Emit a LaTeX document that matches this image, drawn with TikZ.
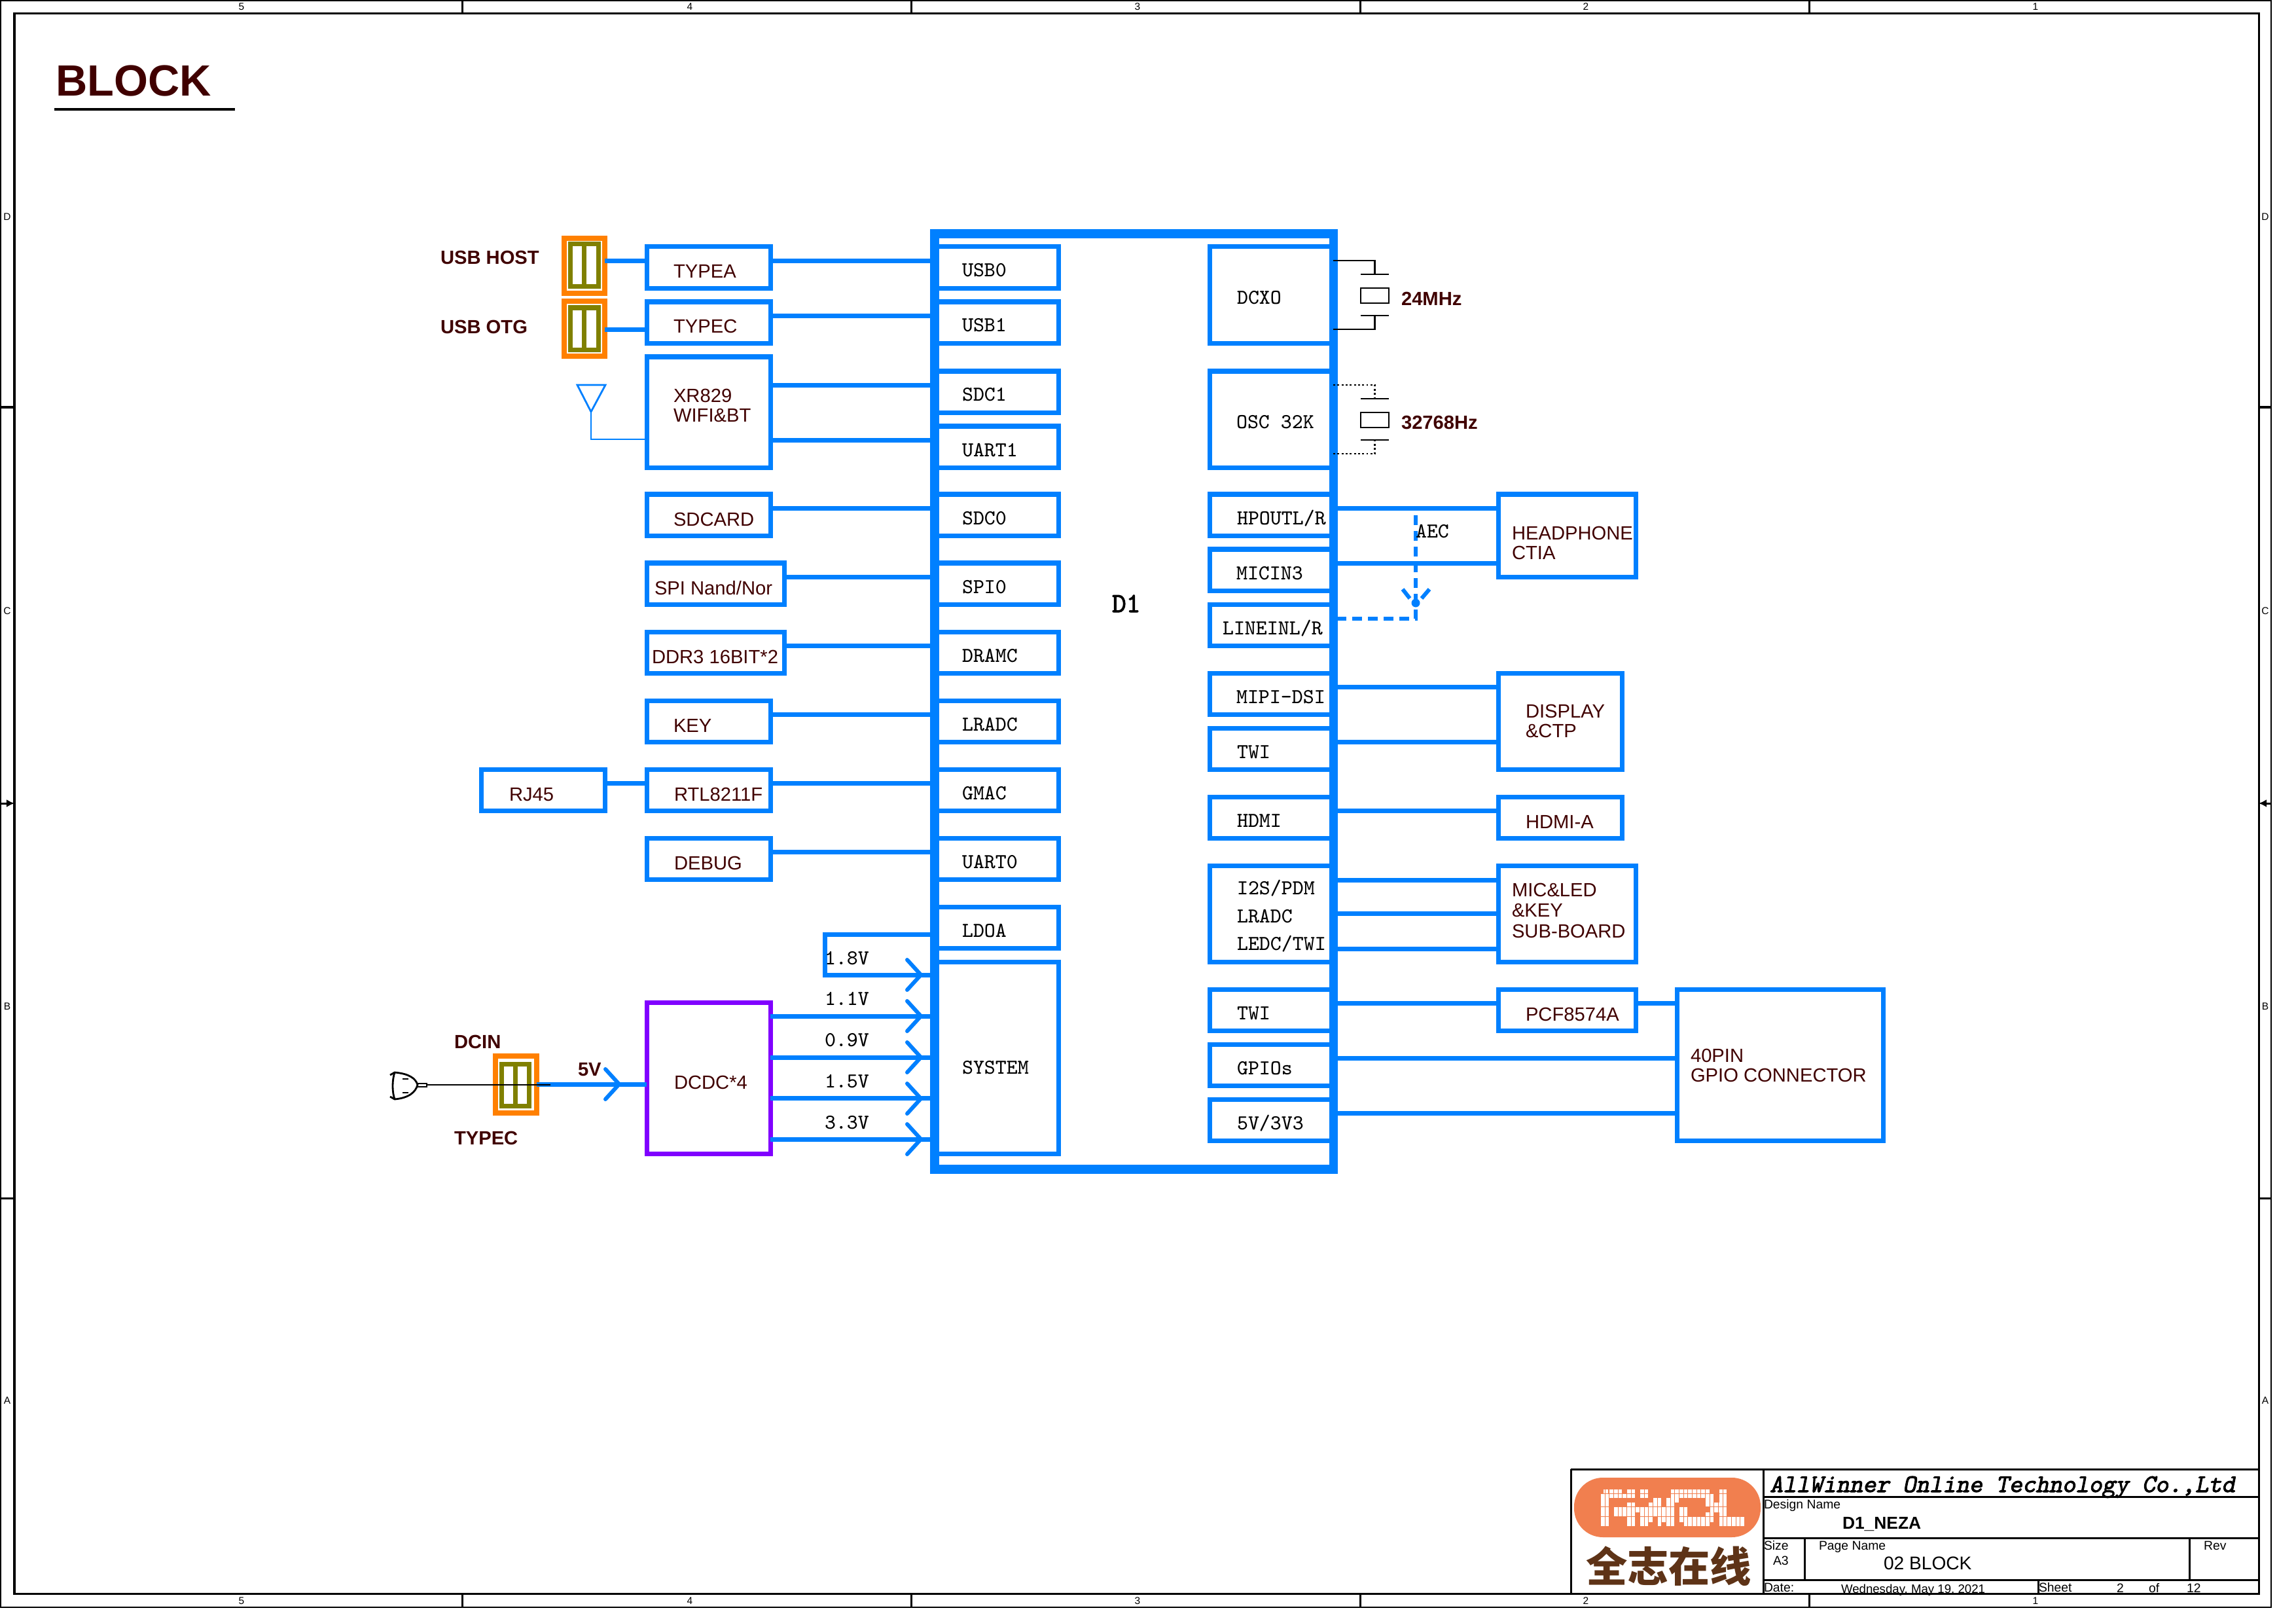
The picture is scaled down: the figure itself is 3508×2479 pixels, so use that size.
\documentclass[tikz,border=0pt]{standalone}
\usepackage{fontspec}
\setmainfont{Liberation Sans}
\newfontfamily\cjk{Noto Sans CJK SC}
\newfontfamily\pinbold[FakeBold=2.5]{Latin Modern Mono}
\newfontfamily\pinslant[FakeBold=2.5,FakeSlant=.2]{Latin Modern Mono}
\usepackage{xcolor}
\usetikzlibrary{arrows.meta,positioning,calc}
\definecolor{busblue}{HTML}{0080FF}
\definecolor{pwrpurple}{HTML}{8000FF}
\definecolor{usborange}{HTML}{FF8000}
\definecolor{usbolive}{HTML}{808000}
\definecolor{boardtxt}{HTML}{400000}
\definecolor{logoorange}{HTML}{F17F4F}
\definecolor{logobrown}{HTML}{5E3317}
\tikzset{
  bbox/.style={draw=busblue,line width=.07cm,inner sep=0,outer sep=0,anchor=north west},
  padbox/.style={bbox,minimum width=1.89cm,minimum height=.63cm},
  widebox/.style={bbox,minimum width=2.10cm,minimum height=.63cm},
  wire/.style={draw=busblue,line width=.07cm},
  thinwire/.style={draw=busblue,line width=.028cm},
  xtalwire/.style={draw=black,line width=.028cm},
  aecwire/.style={draw=busblue,line width=.06cm,dash pattern=on .15cm off .09cm},
  chev/.style={draw=busblue,line width=.06cm,line cap=round},
  usbcase/.style={draw=usborange,line width=.08cm,inner sep=0,outer sep=0,anchor=north west},
  usbcore/.style={draw=usbolive,line width=.07cm,inner sep=0,outer sep=0,anchor=north west},
  lbl/.style={inner sep=0,outer sep=0,anchor=base west,text=boardtxt,font=\fontsize{8.3pt}{10pt}\selectfont},
  blbl/.style={lbl,font=\fontsize{8.3pt}{10pt}\selectfont\bfseries},
  plbl/.style={inner sep=0,outer sep=0,anchor=base west,text=black,font=\fontsize{9.2pt}{10pt}\selectfont\ttfamily},
  tlbl/.style={inner sep=0,outer sep=0,anchor=base west,text=black,font=\fontsize{5.5pt}{7pt}\selectfont},
  rim/.style={inner sep=0,outer sep=0,text=black,font=\fontsize{4.4pt}{5pt}\selectfont},
  frameline/.style={draw=black,line width=.03cm},
}
\begin{document}
\begin{tikzpicture}[x=.01cm,y=-.01cm]
\useasboundingbox (0,0) rectangle (3508,2479);
\fill[white] (0,0) rectangle (3508,2479);
% sheet frame
\draw[draw=black,line width=.02cm] (1,1) rectangle (3470,2455);
\draw[frameline] (22,21) rectangle (3451,2434);
\foreach \xx in {706,1392,2078,2764}{
  \draw[frameline] (\xx,1)--(\xx,21);
  \draw[frameline] (\xx,2434)--(\xx,2455);
}
\foreach \yy in {622,1830}{
  \draw[frameline] (1,\yy)--(22,\yy);
  \draw[frameline] (3451,\yy)--(3470,\yy);
}
\draw[frameline,-{Latex[length=.12cm,width=.12cm]}] (1,1227)--(22,1227);
\draw[frameline,-{Latex[length=.12cm,width=.12cm]}] (3470,1227)--(3451,1227);
\foreach \nm/\xx/\txt in {a/369/5,b/1054/4,c/1738/3,d/2423/2,e/3110/1}{
  \node[rim] (top\nm) at (\xx,10) {\txt};
  \node[rim] (bot\nm) at (\xx,2445) {\txt};
}
\foreach \nm/\yy/\txt in {a/331/D,b/933/C,c/1537/B,d/2139/A}{
  \node[rim] (lft\nm) at (11,\yy) {\txt};
  \node[rim] (rgt\nm) at (3461,\yy) {\txt};
}
% heading
\node[lbl,font=\fontsize{19pt}{22pt}\selectfont\bfseries] (heading) at (85,147) {BLOCK};
\draw[draw=black,line width=.035cm] (83,167)--(359,167);
% D1 package
\node[draw=busblue,line width=.135cm,inner sep=0,outer sep=0,anchor=north west,
      minimum width=6.09cm,minimum height=14.28cm] (chip) at (1428,357) {};
\node[plbl,font=\fontsize{12pt}{13pt}\selectfont\pinbold] (chipname) at (1699,935) {D1};
% pads, left column
\foreach \nm/\yy/\txt in {usbzero/377/USB0,usbone/461/USB1,sdcone/567/SDC1,uartone/651/UART1,
                          sdczero/755/SDC0,spizero/860/SPI0,dramc/965/DRAMC,lradc/1070/LRADC,
                          gmac/1175/GMAC,uartzero/1280/UART0,ldoa/1385/LDOA}{
  \node[padbox] (\nm) at (1428,\yy) {};
  \node[plbl] (\nm txt) at (1470,\yy+46) {\txt};
}
\node[padbox,minimum height=2.93cm] (system) at (1428,1469) {};
\node[plbl] (systemtxt) at (1470,1640) {SYSTEM};
% pads, right column
\foreach \nm/\yy/\xx/\txt in {hpoutl/755/1890/{HPOUTL/R},micin/839/1889/MICIN3,lineinl/923/1868/{LINEINL/R},
                              mipi/1028/1889/MIPI-DSI,twia/1112/1890/TWI,hdmi/1217/1890/HDMI,
                              twib/1511/1890/TWI,gpios/1595/1890/GPIOs,fivev/1679/1890/{5V/3V3}}{
  \node[padbox] (\nm) at (1848,\yy) {};
  \node[plbl] (\nm txt) at (\xx,\yy+46) {\txt};
}
\node[padbox,minimum height=1.47cm] (dcxo) at (1848,377) {};
\node[plbl] (dcxotxt) at (1890,465) {DCXO};
\node[padbox,minimum height=1.47cm] (osc) at (1848,567) {};
\node[plbl] (osctxt) at (1889,654) {OSC 32K};
\node[padbox,minimum height=1.47cm] (sound) at (1848,1322) {};
\node[plbl] (soundtxta) at (1890,1366) {I2S/PDM};
\node[plbl] (soundtxtb) at (1890,1409) {LRADC};
\node[plbl] (soundtxtc) at (1890,1451) {LEDC/TWI};
% left blocks
\foreach \nm/\yy/\xx/\txt in {typea/377/1029/TYPEA,typec/461/1029/TYPEC,sdcard/755/1029/SDCARD,
                              key/1070/1029/KEY,rtl/1175/1030/RTL8211F,debug/1280/1030/DEBUG}{
  \node[padbox] (\nm) at (988,\yy) {};
  \node[lbl] (\nm txt) at (\xx,\yy+48) {\txt};
}
\node[padbox,minimum width=2.10cm] (spi) at (988,860) {};
\node[lbl] (spitxt) at (1000,908) {SPI Nand/Nor};
\node[padbox,minimum width=2.10cm] (ddr) at (988,965) {};
\node[lbl] (ddrtxt) at (996,1013) {DDR3 16BIT*2};
\node[padbox,minimum height=1.69cm] (xr) at (988,545) {};
\node[lbl] (xrtxta) at (1029,615) {XR829};
\node[lbl] (xrtxtb) at (1029,644) {WIFI\&BT};
\node[padbox] (rj) at (735,1175) {};
\node[lbl] (rjtxt) at (778,1223) {RJ45};
\node[padbox,draw=pwrpurple,minimum height=2.31cm] (dcdc) at (988,1531) {};
\node[lbl] (dcdctxt) at (1030,1663) {DCDC*4};
% right blocks
\node[widebox,minimum height=1.26cm] (headphone) at (2289,755) {};
\node[lbl] (headphonetxta) at (2310,824) {HEADPHONE};
\node[lbl] (headphonetxtb) at (2310,854) {CTIA};
\node[padbox,minimum height=1.47cm] (display) at (2289,1028) {};
\node[lbl] (displaytxta) at (2331,1096) {DISPLAY};
\node[lbl] (displaytxtb) at (2331,1126) {\&CTP};
\node[padbox] (hdmia) at (2289,1217) {};
\node[lbl] (hdmiatxt) at (2331,1265) {HDMI-A};
\node[widebox,minimum height=1.47cm] (micled) at (2289,1322) {};
\node[lbl] (micledtxta) at (2310,1369) {MIC\&LED};
\node[lbl] (micledtxtb) at (2310,1400) {\&KEY};
\node[lbl] (micledtxtc) at (2310,1432) {SUB-BOARD};
\node[widebox] (pcf) at (2289,1511) {};
\node[lbl] (pcftxt) at (2331,1559) {PCF8574A};
\node[bbox,minimum width=3.15cm,minimum height=2.31cm] (gpio) at (2562,1511) {};
\node[lbl] (gpiotxta) at (2583,1622) {40PIN};
\node[lbl] (gpiotxtb) at (2583,1652) {GPIO CONNECTOR};
% USB receptacles
\foreach \nm/\xa/\ya/\wa/\ha/\xb/\yb/\wb/\hb in {usbhost/862/364/.62/.84/871/373/.43/.64,
    usbotg/862/460/.62/.84/871/470/.43/.64,dcin/757/1613/.63/.87/766/1625/.42/.64}{
  \node[usbcase,minimum width=\wa cm,minimum height=\ha cm] (\nm) at (\xa,\ya) {};
  \node[usbcore,minimum width=\wb cm,minimum height=\hb cm] (\nm core) at (\xb,\yb) {};
  \draw[draw=usbolive,line width=.07cm] (\nm core.north)--(\nm core.south);
}
\node[blbl] (usbhosttxt) at (673,404) {USB HOST};
\node[blbl] (usbotgtxt) at (673,510) {USB OTG};
\node[blbl] (dcintxt) at (694,1601) {DCIN};
\node[blbl] (dcintype) at (694,1748) {TYPEC};
\node[blbl] (fivevtxt) at (883,1643) {5V};
% bus connectors, left
\foreach \aa/\bb in {typea/usbzero,typec/usbone,sdcard/sdczero,spi/spizero,ddr/dramc,
                     key/lradc,rtl/gmac,debug/uartzero}{
  \draw[wire] ([yshift=-.21cm]\aa.north east)--([yshift=-.21cm]\bb.north west);
}
\draw[wire] ([yshift=-.21cm]sdcone.north west -| xr.east)--([yshift=-.21cm]sdcone.north west);
\draw[wire] ([yshift=-.21cm]uartone.north west -| xr.east)--([yshift=-.21cm]uartone.north west);
\draw[wire] ([yshift=-.21cm]rj.north east)--([yshift=-.21cm]rtl.north west);
\draw[wire] ([yshift=-.21cm]typea.north west -| usbhost.east)--([yshift=-.21cm]typea.north west);
\draw[wire] ([yshift=.21cm]typec.south west -| usbotg.east)--([yshift=.21cm]typec.south west);
% bus connectors, right
\foreach \aa/\bb in {hpoutl/headphone,mipi/display,twia/display,hdmi/hdmia,twib/pcf,
                     gpios/gpio,fivev/gpio}{
  \draw[wire] ([yshift=-.21cm]\aa.north east)--([yshift=-.21cm]\aa.north east -| \bb.west);
}
\draw[wire] ([yshift=-.21cm]micin.north east)--([yshift=-.21cm]micin.north east -| headphone.west);
\draw[wire] ([yshift=-.21cm]pcf.north east)--([yshift=-.21cm]pcf.north east -| gpio.west);
\foreach \ofs in {.22,.73,1.27}{
  \draw[wire] ([yshift=-\ofs cm]sound.north east)--([yshift=-\ofs cm]micled.north west);
}
% power rails
\draw[wire] (dcin.east |- 0,1656)--(dcdc.west |- 0,1656);
\foreach \ofs in {.21,.84,1.46,2.09}{
  \draw[wire] ([yshift=-\ofs cm]dcdc.north east)--([yshift=-\ofs cm]dcdc.north east -| system.west);
}
\draw[wire] ([yshift=.21cm]ldoa.south west)--++(-168,0)|-(system.west |- 0,1489);
\foreach \yy in {1489,1552,1615,1678,1740}{
  \draw[chev] (1386,\yy-23)--(1407,\yy)--(1386,\yy+23);
}
\foreach \xx/\yy/\txt/\nm in {1260/1473/1.8V/va,1260/1535/1.1V/vb,1260/1598/0.9V/vc,
                              1260/1661/1.5V/vd,1260/1724/3.3V/ve}{
  \node[plbl] (\nm txt) at (\xx,\yy) {\txt};
}
\draw[chev] (925,1633)--(946,1656)--(925,1679);
% antenna
\draw[thinwire] (882,588)--(925,588)--(903,629)--cycle;
\draw[thinwire] (903,629)--(903,671)--(xr.west |- 0,671);
% plug
\draw[line width=.028cm] (596,1642)--(603,1638) .. controls (625,1640) and (635,1647) .. (638,1657)
  .. controls (635,1668) and (625,1677) .. (603,1679)--(596,1675);
\draw[line width=.028cm] (603,1638) .. controls (599,1650) and (599,1668) .. (603,1679);
\draw[line width=.028cm] (615,1648)--(624,1648) (615,1669)--(624,1669);
\draw[line width=.02cm] (638,1655)--(652,1655)--(652,1660)--(638,1660);
\draw[xtalwire] (652,1657)--(841,1657);
% crystals
\foreach \nm/\ya/\sty in {dcxo/398/solid,osc/588/densely dotted}{
  \draw[xtalwire,\sty] ([yshift=-.21cm]\nm.north east)--++(63.5,0)--++(0,21);
  \draw[xtalwire,\sty] ([yshift=.21cm]\nm.south east)--++(63.5,0)--++(0,-21);
  \draw[xtalwire] (2079,\ya+21)--(2122,\ya+21);
  \draw[xtalwire] (2079,\ya+42) rectangle (2122,\ya+65);
  \draw[xtalwire] (2079,\ya+84)--(2122,\ya+84);
}
\node[blbl] (xtala) at (2141,467) {24MHz};
\node[blbl] (xtalb) at (2141,656) {32768Hz};
% echo reference
\coordinate (aectop) at (2163,787);
\coordinate (aecbot) at (2163,945);
\draw[aecwire] (aectop)--(aecbot)--(aecbot -| lineinl.east);
\draw[draw=busblue,line width=.06cm] (2143,900)--(2154,914) (2184,900)--(2172,914);
\fill[busblue] (2163,921) circle (.065cm);
\node[plbl] (aectxt) at (2163,821) {AEC};
% title block
\draw[frameline] (2400,2244)--(3451,2244) (2400,2244)--(2400,2434);
\draw[frameline] (2694,2244)--(2694,2434) (2694,2286)--(3451,2286) (2694,2349)--(3451,2349)
  (2694,2413)--(3451,2413) (2757,2349)--(2757,2413) (3345,2349)--(3345,2413) (3114,2413)--(3114,2434);
\node[tlbl,font=\fontsize{11pt}{12pt}\selectfont\pinslant] (company) at (2704,2279)
  {AllWinner Online Technology Co.,Ltd};
\foreach \nm/\xx/\yy/\txt in {tdesign/2695/2304/Design Name,tsize/2695/2367/Size,ta/2709/2390/A3,
                              tpage/2779/2367/Page Name,trev/3367/2367/Rev,tdate/2695/2431/Date:,
                              tsheet/3115/2431/Sheet,tsh/3234/2432/2,tof/3283/2432/of,tn/3341/2432/12}{
  \node[tlbl] (\nm) at (\xx,\yy) {\txt};
}
\node[tlbl,font=\fontsize{5.3pt}{7pt}\selectfont] (twhen) at (2813,2433) {Wednesday, May 19, 2021};
\node[tlbl,font=\fontsize{7.5pt}{9pt}\selectfont\bfseries] (tname) at (2815,2335) {D1\_NEZA};
\node[tlbl,font=\fontsize{8pt}{10pt}\selectfont] (tblock) at (2878,2397) {02 BLOCK};
% logo
\fill[logoorange,rounded corners=.44cm] (2405,2257) rectangle (2690,2348);
\foreach \yy/\hh/\xa/\xb in {90/20/150/170,90/20/175/235,90/20/255/295,90/20/315/355,90/20/455/640,90/20/680/715,
    110/20/135/295,110/20/315/355,110/20/455/655,110/20/680/715,
    130/20/135/175,130/20/375/415,130/20/435/495,130/20/615/655,130/20/680/715,
    150/20/135/175,150/20/255/295,150/20/355/415,150/20/435/475,150/20/615/715,
    170/25/135/175,170/25/195/475,170/25/495/535,170/25/635/715,
    195/20/135/175,195/20/195/295,195/20/315/475,195/20/495/535,195/20/615/655,195/20/680/715,
    215/25/135/175,215/25/255/295,215/25/315/375,215/25/395/475,215/25/495/655,215/25/680/795,
    240/20/135/175,240/20/255/295,240/20/315/355,240/20/395/415,240/20/435/475,240/20/515/635,240/20/680/795}{
  \fill[white] (2400+\xa/3,2245+\yy/3) rectangle (2400+\xb/3,2245+\yy/3+\hh/3-.4);
}
\foreach \cc in {0,...,33}{
  \draw[logoorange,line width=.003cm] (2445+\cc*20/3,2275)--(2445+\cc*20/3,2333);
}
\node[inner sep=0,outer sep=0,anchor=base west,text=logobrown,
      font=\fontsize{18pt}{20pt}\selectfont\cjk\bfseries] (logotxt) at (2423,2416) {全志在线};
\end{tikzpicture}
\end{document}
